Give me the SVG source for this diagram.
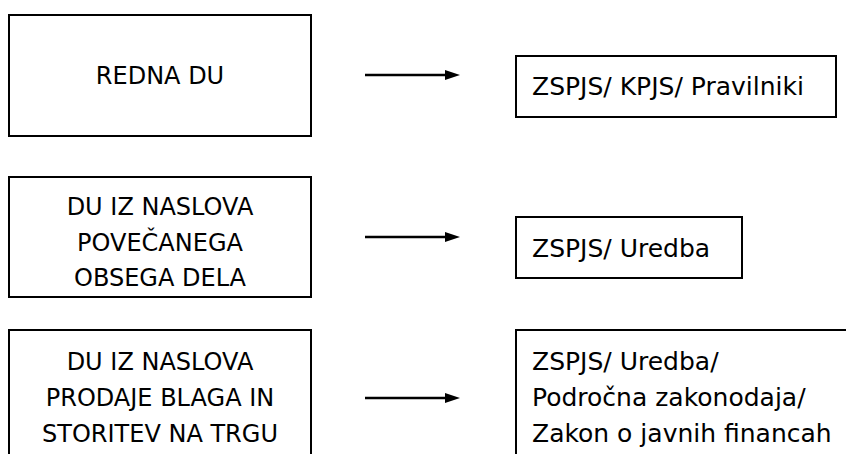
<svg xmlns="http://www.w3.org/2000/svg" width="846" height="454" viewBox="0 0 846 454">
<style>
.box{fill:#fff;stroke:#000;stroke-width:2}
.t{font-family:"DejaVu Sans",Verdana,sans-serif;font-size:24px;fill:#000}
.r{font-size:25px}
.c{text-anchor:middle}
.conn{stroke:#000;stroke-width:2.5;fill:none}
</style>
<defs>
<marker id="ah" markerWidth="6" markerHeight="4" refX="0" refY="2" orient="auto" markerUnits="strokeWidth">
<path d="M0,0 L6,2 L0,4 Z" fill="#000"/>
</marker>
</defs>
<rect width="846" height="454" fill="#fff"/>
<g id="n1"><rect class="box" x="9" y="15" width="302" height="121"/><text class="t c" x="160" y="84">REDNA DU</text></g>
<g id="n2"><rect class="box" x="9" y="177" width="302" height="120"/><text class="t c" x="160" y="215">DU IZ NASLOVA</text><text class="t c" x="160" y="251">POVEČANEGA</text><text class="t c" x="160" y="286">OBSEGA DELA</text></g>
<g id="n3"><rect class="box" x="9" y="330" width="302" height="140"/><text class="t c" x="160" y="370">DU IZ NASLOVA</text><text class="t c" x="160" y="406">PRODAJE BLAGA IN</text><text class="t c" x="160" y="442">STORITEV NA TRGU</text></g>
<g id="r1"><rect class="box" x="516" y="56" width="320" height="61"/><text class="t r" x="532" y="95">ZSPJS/ KPJS/ Pravilniki</text></g>
<g id="r2"><rect class="box" x="516" y="217" width="226" height="61"/><text class="t r" x="532" y="257">ZSPJS/ Uredba</text></g>
<g id="r3"><rect class="box" x="516" y="330" width="340" height="140"/><text class="t r" x="532" y="370">ZSPJS/ Uredba/</text><text class="t r" x="532" y="406">Področna zakonodaja/</text><text class="t r" x="532" y="442">Zakon o javnih financah</text></g>
<g id="connectors">
<line class="conn" x1="365" y1="75" x2="445" y2="75" marker-end="url(#ah)"/>
<line class="conn" x1="365" y1="237" x2="445" y2="237" marker-end="url(#ah)"/>
<line class="conn" x1="365" y1="398" x2="445" y2="398" marker-end="url(#ah)"/>
</g>
</svg>
